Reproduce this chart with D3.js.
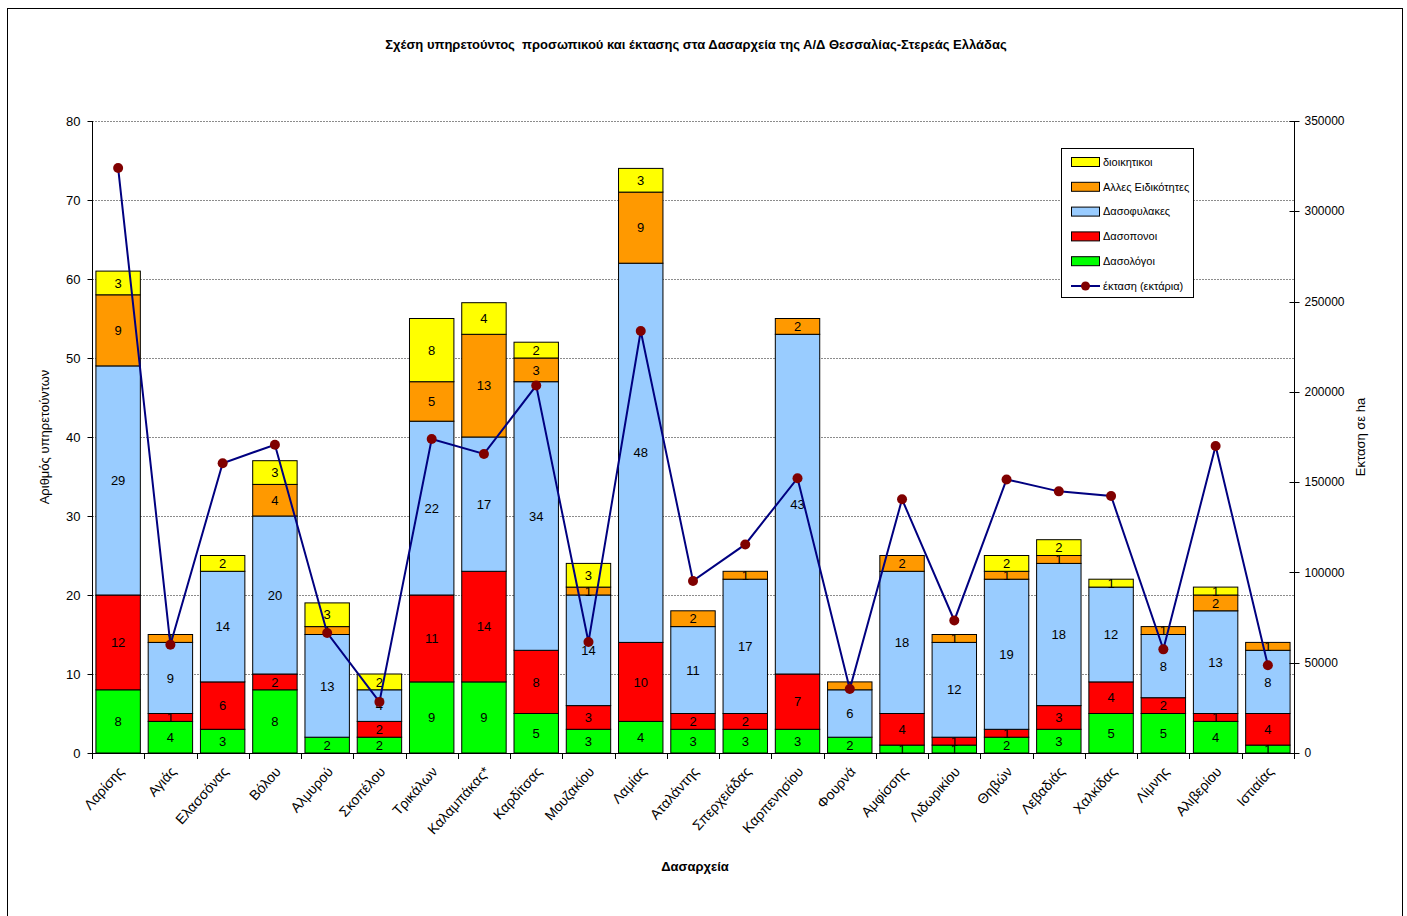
<!DOCTYPE html>
<html>
<head>
<meta charset="utf-8">
<script src="https://cdn.jsdelivr.net/npm/d3@7"></script>
<style>
  body { margin: 0; background: #fff; }
  svg { font-family: "Liberation Sans", Arial, sans-serif; }
</style>
</head>
<body>
<svg id="chart" width="1407" height="916"></svg>
<script>
// Δασαρχεία
var categories = ["Λαρίσης", "Αγιάς", "Ελασσόνας", "Βόλου", "Αλμυρού", "Σκοπέλου", "Τρικάλων",
  "Καλαμπάκας*", "Καρδίτσας", "Μουζακίου", "Λαμίας", "Αταλάντης", "Σπερχειάδας", "Καρπενησίου",
  "Φουρνά", "Αμφίσσης", "Λιδωρικίου", "Θηβών", "Λεβαδιάς", "Χαλκίδας", "Λίμνης", "Αλιβερίου", "Ιστιαίας"];

var dasologoi    = [8, 4, 3, 8, 2, 2, 9, 9, 5, 3, 4, 3, 3, 3, 2, 1, 1, 2, 3, 5, 5, 4, 1];
var dasoponoi    = [12, 1, 6, 2, 0, 2, 11, 14, 8, 3, 10, 2, 2, 7, 0, 4, 1, 1, 3, 4, 2, 1, 4];
var dasofylakes  = [29, 9, 14, 20, 13, 4, 22, 17, 34, 14, 48, 11, 17, 43, 6, 18, 12, 19, 18, 12, 8, 13, 8];
var alles        = [9, 1, 0, 4, 1, 0, 5, 13, 3, 1, 9, 2, 1, 2, 1, 2, 1, 1, 1, 0, 1, 2, 1];
var dioikitikoi  = [3, 0, 2, 3, 3, 2, 8, 4, 2, 3, 3, 0, 0, 0, 0, 0, 0, 2, 2, 1, 0, 1, 0];

// έκταση (εκτάρια)
var ektasi = [324000, 60000, 160500, 170700, 66500, 28300, 173900, 165600, 203500, 61500, 233700,
  95300, 115500, 152200, 35400, 140500, 73400, 151500, 144900, 142300, 57400, 170000, 48600];

var leftTicks = [0, 10, 20, 30, 40, 50, 60, 70, 80];
var rightTicks = [0, 50000, 100000, 150000, 200000, 250000, 300000, 350000];

var seriesKeys = ["Δασολόγοι", "Δασοπονοι", "Δασοφυλακες", "Αλλες Ειδικότητες", "διοικητικοι"];
var seriesValues = [dasologoi, dasoponoi, dasofylakes, alles, dioikitikoi];
var seriesColors = ["#00ff00", "#ff0000", "#99ccff", "#ff9900", "#ffff00"];

var svg = d3.select("#chart");

// outer frame
svg.append("rect")
  .attr("x", 7.5).attr("y", 8.5)
  .attr("width", 1395).attr("height", 930)
  .attr("fill", "none").attr("stroke", "#000").attr("stroke-width", 1);

var plotLeft = 92, plotRight = 1294, plotTop = 121, plotBottom = 753;

var x = d3.scaleBand()
  .domain(categories)
  .range([plotLeft, plotRight])
  .paddingInner(0.15)
  .paddingOuter(0.075);

var y = d3.scaleLinear().domain([0, 80]).range([plotBottom, plotTop]);
var y2 = d3.scaleLinear().domain([0, 350000]).range([plotBottom, plotTop]);

// gridlines
svg.append("g")
  .selectAll("line")
  .data(leftTicks.slice(1))
  .enter().append("line")
  .attr("x1", plotLeft).attr("x2", plotRight)
  .attr("y1", d => Math.round(y(d)) + 0.5)
  .attr("y2", d => Math.round(y(d)) + 0.5)
  .attr("stroke", "#8c8c8c")
  .attr("stroke-width", 1)
  .attr("stroke-dasharray", "2,1");

// stacked data
var table = categories.map(function (c, i) {
  var row = { cat: c };
  seriesKeys.forEach(function (k, j) { row[k] = seriesValues[j][i]; });
  return row;
});
var stacked = d3.stack().keys(seriesKeys)(table);

var layers = svg.append("g")
  .selectAll("g")
  .data(stacked)
  .enter().append("g")
  .attr("fill", (d, i) => seriesColors[i]);

layers.selectAll("rect")
  .data(d => d.filter(s => s[1] - s[0] > 0))
  .enter().append("rect")
  .attr("x", d => x(d.data.cat))
  .attr("y", d => y(d[1]))
  .attr("width", x.bandwidth())
  .attr("height", d => y(d[0]) - y(d[1]))
  .attr("stroke", "#000")
  .attr("stroke-width", 1);

// segment labels
layers.selectAll("text")
  .data(d => d.filter(s => s[1] - s[0] > 0))
  .enter().append("text")
  .attr("x", d => x(d.data.cat) + x.bandwidth() / 2)
  .attr("y", d => (y(d[0]) + y(d[1])) / 2)
  .attr("dy", "0.36em")
  .attr("text-anchor", "middle")
  .attr("fill", "#000")
  .style("font-size", "13px")
  .text(d => d[1] - d[0]);

// area line
var line = d3.line()
  .x((d, i) => x(categories[i]) + x.bandwidth() / 2)
  .y(d => y2(d));

svg.append("path")
  .datum(ektasi)
  .attr("d", line)
  .attr("fill", "none")
  .attr("stroke", "#000080")
  .attr("stroke-width", 2);

svg.append("g")
  .selectAll("circle")
  .data(ektasi)
  .enter().append("circle")
  .attr("cx", (d, i) => x(categories[i]) + x.bandwidth() / 2)
  .attr("cy", d => y2(d))
  .attr("r", 5)
  .attr("fill", "#800000");

// left axis
var gL = svg.append("g").attr("transform", "translate(" + (plotLeft + 0.5) + ",0)");
gL.append("line").attr("y1", plotTop).attr("y2", plotBottom).attr("stroke", "#000");
gL.selectAll("line.t").data(leftTicks).enter().append("line")
  .attr("class", "t")
  .attr("x1", -5).attr("x2", 0)
  .attr("y1", d => Math.round(y(d)) + 0.5).attr("y2", d => Math.round(y(d)) + 0.5)
  .attr("stroke", "#000");
gL.selectAll("text").data(leftTicks).enter().append("text")
  .attr("x", -12).attr("y", d => y(d)).attr("dy", "0.35em")
  .attr("text-anchor", "end")
  .style("font-size", "13px")
  .text(d => d);

// right axis
var gR = svg.append("g").attr("transform", "translate(" + (plotRight + 0.5) + ",0)");
gR.append("line").attr("y1", plotTop).attr("y2", plotBottom).attr("stroke", "#000");
gR.selectAll("line.t").data(rightTicks).enter().append("line")
  .attr("class", "t")
  .attr("x1", -5).attr("x2", 5)
  .attr("y1", d => Math.round(y2(d)) + 0.5).attr("y2", d => Math.round(y2(d)) + 0.5)
  .attr("stroke", "#000");
gR.selectAll("text").data(rightTicks).enter().append("text")
  .attr("x", 10).attr("y", d => y2(d)).attr("dy", "0.35em")
  .attr("text-anchor", "start")
  .style("font-size", "12px")
  .text(d => d);

// bottom axis
var step = x.step();
var gB = svg.append("g");
gB.append("line")
  .attr("x1", plotLeft).attr("x2", plotRight)
  .attr("y1", plotBottom + 0.5).attr("y2", plotBottom + 0.5)
  .attr("stroke", "#000");
gB.selectAll("line.t").data(d3.range(categories.length + 1)).enter().append("line")
  .attr("class", "t")
  .attr("x1", i => Math.round(plotLeft + i * step) + 0.5)
  .attr("x2", i => Math.round(plotLeft + i * step) + 0.5)
  .attr("y1", plotBottom).attr("y2", plotBottom + 6)
  .attr("stroke", "#000");
gB.selectAll("text").data(categories).enter().append("text")
  .attr("transform", d => "translate(" + (x(d) + x.bandwidth() / 2 + 3) + "," + (plotBottom + 16) + ") rotate(-48)")
  .attr("text-anchor", "end")
  .attr("dy", "0.35em")
  .style("font-size", "14px")
  .text(d => d);

// axis titles
svg.append("text")
  .attr("transform", "translate(49," + ((plotTop + plotBottom) / 2) + ") rotate(-90)")
  .attr("text-anchor", "middle")
  .style("font-size", "13px")
  .text("Αριθμός υπηρετούντων");

svg.append("text")
  .attr("transform", "translate(1365," + ((plotTop + plotBottom) / 2) + ") rotate(-90)")
  .attr("text-anchor", "middle")
  .style("font-size", "13px")
  .text("Εκταση σε ha");

svg.append("text")
  .attr("x", 695).attr("y", 871)
  .attr("text-anchor", "middle")
  .style("font-size", "13px")
  .style("font-weight", "bold")
  .text("Δασαρχεία");

// title
svg.append("text")
  .attr("x", 696).attr("y", 49)
  .attr("text-anchor", "middle")
  .attr("xml:space", "preserve")
  .style("font-size", "13px")
  .style("font-weight", "bold")
  .text("Σχέση υπηρετούντος  προσωπικού και έκτασης στα Δασαρχεία της Α/Δ Θεσσαλίας-Στερεάς Ελλάδας");

// legend
var legendItems = [
  { name: "διοικητικοι", color: "#ffff00" },
  { name: "Αλλες Ειδικότητες", color: "#ff9900" },
  { name: "Δασοφυλακες", color: "#99ccff" },
  { name: "Δασοπονοι", color: "#ff0000" },
  { name: "Δασολόγοι", color: "#00ff00" },
  { name: "έκταση (εκτάρια)", color: null }
];
var lg = svg.append("g").attr("transform", "translate(1061,148)");
lg.append("rect")
  .attr("x", 0.5).attr("y", 0.5).attr("width", 132).attr("height", 149)
  .attr("fill", "#fff").attr("stroke", "#000");
var items = lg.selectAll("g.item").data(legendItems).enter().append("g")
  .attr("class", "item")
  .attr("transform", (d, i) => "translate(0," + (14 + i * 24.8) + ")");
items.filter(d => d.color).append("rect")
  .attr("x", 10.5).attr("y", -4.5).attr("width", 28).attr("height", 9)
  .attr("fill", d => d.color).attr("stroke", "#000");
items.filter(d => !d.color).append("line")
  .attr("x1", 10).attr("x2", 39).attr("y1", 0).attr("y2", 0)
  .attr("stroke", "#000080").attr("stroke-width", 2);
items.filter(d => !d.color).append("circle")
  .attr("cx", 24.5).attr("cy", 0).attr("r", 4.5).attr("fill", "#800000");
items.append("text")
  .attr("x", 42).attr("y", 0).attr("dy", "0.35em")
  .style("font-size", "11px")
  .text(d => d.name);
</script>
</body>
</html>
